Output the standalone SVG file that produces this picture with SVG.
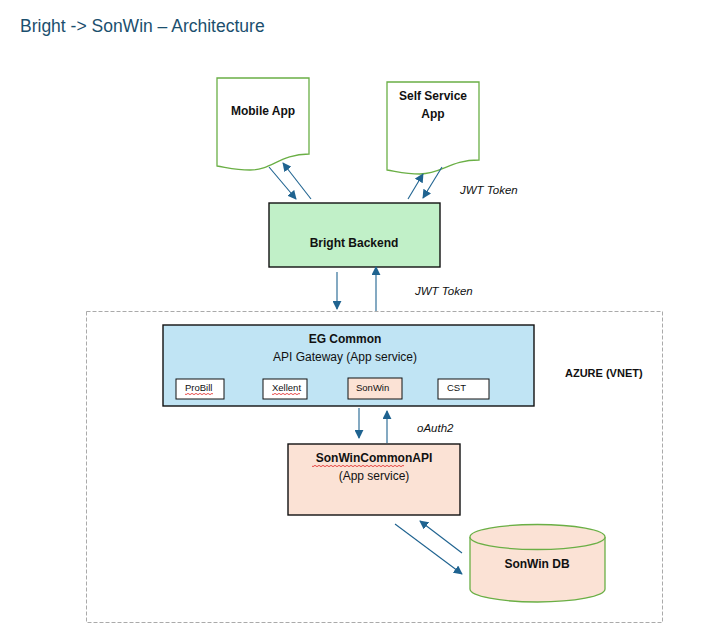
<svg xmlns="http://www.w3.org/2000/svg" width="724" height="636" viewBox="0 0 724 636">
<defs>
<marker id="ah" viewBox="0 0 10 10" refX="9" refY="5" markerWidth="9" markerHeight="9" markerUnits="userSpaceOnUse" orient="auto">
<path d="M0,0 L10,5 L0,10 z" fill="#1f6390"/>
</marker>
<style>
.t{font-family:"Liberation Sans",Arial,sans-serif;fill:#111}
.b{font-weight:bold;font-size:12px}
.n{font-size:12px}
.i{font-style:italic;font-size:11.5px}
.s{font-size:9.5px}
.doc{fill:#fff;stroke:#6aaf45;stroke-width:1.3}
.box{stroke:#111;stroke-width:1.4}
.sm{fill:#fff;stroke:#111;stroke-width:1}
.c{stroke:#1f6390;stroke-width:1.1;fill:none;marker-end:url(#ah)}
.sq{fill:none;stroke:#e02020;stroke-width:0.8}
</style>
</defs>
<rect width="724" height="636" fill="#fff"/>
<text x="20" y="32" style="font-family:'Liberation Sans',Arial,sans-serif;font-size:17.5px;fill:#1b4f6e">Bright -&gt; SonWin – Architecture</text>

<g id="azure">
<rect x="86.5" y="311.5" width="576" height="311" fill="none" stroke="#aaa" stroke-width="1" stroke-dasharray="4,2"/>
<text class="t" x="565" y="377" style="font-weight:bold;font-size:11px">AZURE (VNET)</text>
</g>

<g id="mobile-app">
<path class="doc" d="M217,78 H309 V154 C280,154 272,170 250,170 C235,170 225,167 217,166 Z"/>
<text class="t b" x="263" y="115" text-anchor="middle">Mobile App</text>
</g>

<g id="self-service-app">
<path class="doc" d="M387,82 H479 V160 C450,160 442,174 420,174 C405,174 395,171 387,170 Z"/>
<text class="t b" x="433" y="100" text-anchor="middle">Self Service</text>
<text class="t b" x="433" y="118" text-anchor="middle">App</text>
</g>

<g id="bright-backend">
<rect class="box" x="269" y="203" width="171" height="64" fill="#c1f0c8"/>
<text class="t b" x="354" y="247" text-anchor="middle">Bright Backend</text>
</g>

<g id="eg-common">
<rect class="box" x="163" y="325" width="371" height="81" fill="#c0e4f4"/>
<text class="t b" x="345" y="343" text-anchor="middle">EG Common</text>
<text class="t n" x="345" y="361" text-anchor="middle">API Gateway (App service)</text>
<g id="probill"><rect class="sm" x="176" y="379" width="48" height="20"/><text class="t s" x="185" y="391">ProBill</text><path class="sq" d="M185,394 q1,1.2 2,0 t2,0 t2,0 t2,0 t2,0 t2,0 t2,0 t2,0 t2,0 t2,0 t2,0 t2,0 t2,0 t2,0"/></g>
<g id="xellent"><rect class="sm" x="263" y="379" width="44" height="20"/><text class="t s" x="272" y="391">Xellent</text><path class="sq" d="M272,394 q1,1.2 2,0 t2,0 t2,0 t2,0 t2,0 t2,0 t2,0 t2,0 t2,0 t2,0 t2,0 t2,0 t2,0 t2,0"/></g>
<g id="sonwin"><rect class="sm" x="348" y="378" width="54" height="21" style="fill:#fbe2d5"/><text class="t s" x="356" y="391">SonWin</text></g>
<g id="cst"><rect class="sm" x="438" y="379" width="51" height="20"/><text class="t s" x="447" y="391">CST</text></g>
</g>

<g id="sonwin-common-api">
<rect class="box" x="288" y="444" width="172" height="71" fill="#fbe2d5"/>
<text class="t b" x="374" y="462" text-anchor="middle">SonWinCommonAPI</text>
<path class="sq" d="M312,466 q1,1.3 2,0 t2,0 t2,0 t2,0 t2,0 t2,0 t2,0 t2,0 t2,0 t2,0 t2,0 t2,0 t2,0 t2,0 t2,0 t2,0 t2,0 t2,0 t2,0 t2,0 t2,0 t2,0 t2,0 t2,0 t2,0 t2,0 t2,0 t2,0 t2,0 t2,0 t2,0 t2,0 t2,0 t2,0 t2,0 t2,0 t2,0 t2,0 t2,0 t2,0 t2,0 t2,0 t2,0 t2,0 t2,0 t2,0"/>
<text class="t n" x="374" y="480" text-anchor="middle">(App service)</text>
</g>

<g id="sonwin-db">
<path d="M470,537 V589 A67.5,13 0 0 0 605,589 V537" fill="#fbe2d5" stroke="#6aaf45" stroke-width="1.3"/>
<ellipse cx="537.5" cy="537" rx="67.5" ry="12.5" fill="#fbe2d5" stroke="#6aaf45" stroke-width="1.3"/>
<text class="t b" x="537" y="568" text-anchor="middle">SonWin DB</text>
</g>

<g id="connectors">
<line class="c" x1="269" y1="167" x2="296" y2="199"/>
<line class="c" x1="311" y1="199" x2="283" y2="163"/>
<line class="c" x1="408" y1="199" x2="423" y2="174"/>
<line class="c" x1="442" y1="167" x2="423" y2="198"/>
<line class="c" x1="337" y1="272" x2="337" y2="309"/>
<line class="c" x1="376" y1="311" x2="376" y2="267"/>
<line class="c" x1="359" y1="408" x2="359" y2="438"/>
<line class="c" x1="387" y1="443" x2="387" y2="411"/>
<line class="c" x1="395" y1="524" x2="462" y2="574"/>
<line class="c" x1="462" y1="553" x2="420" y2="521"/>
</g>

<g id="labels">
<text class="t i" x="460" y="194">JWT Token</text>
<text class="t i" x="415" y="295">JWT Token</text>
<text class="t i" x="417" y="432">oAuth2</text>
</g>
</svg>
